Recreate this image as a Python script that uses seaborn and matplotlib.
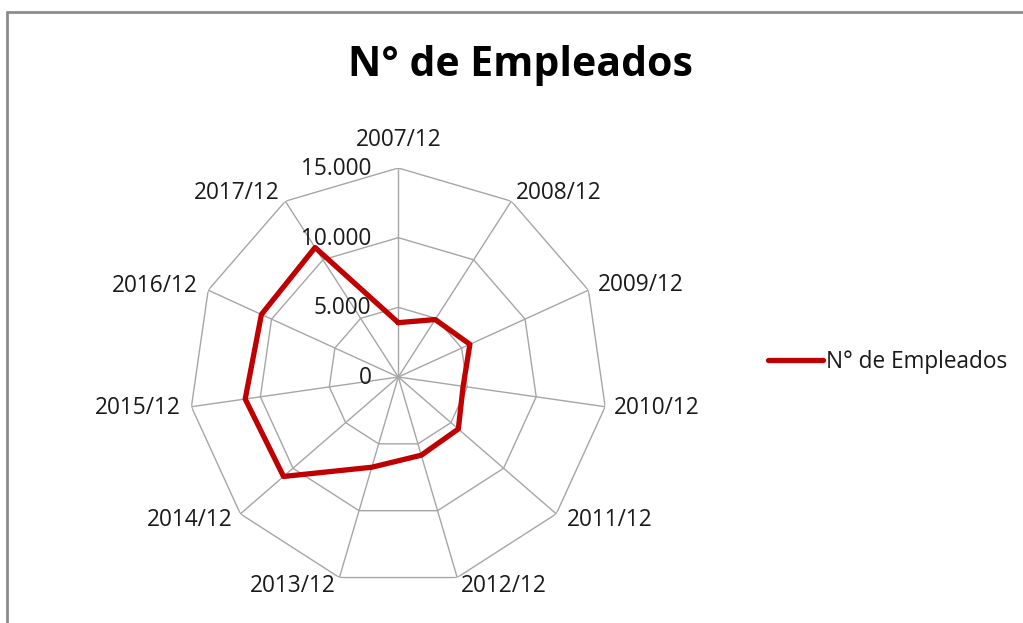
import numpy as np
import pandas as pd
import matplotlib
matplotlib.use("Agg")
import matplotlib.pyplot as plt
import seaborn as sns
from matplotlib.lines import Line2D

categories = ["2007/12", "2008/12", "2009/12", "2010/12", "2011/12", "2012/12",
              "2013/12", "2014/12", "2015/12", "2016/12", "2017/12"]
empleados = [3900, 4900, 5650, 4700, 5700, 5850, 6750, 10900, 11100, 10800, 11050]
rticks = [0, 5000, 10000, 15000]
rtick_labels = ["0", "5.000", "10.000", "15.000"]
series_name = "N° de Empleados"

sns.set_theme(style="white")
plt.rcParams["font.family"] = ["Open Sans", "DejaVu Sans"]

W, H = 1023, 623
fig = plt.figure(figsize=(W / 100, H / 100), dpi=100)
cx, cy, R = 398.3, 377.0, 209.0
ax = fig.add_axes([(cx - R) / W, (H - cy - R) / H, 2 * R / W, 2 * R / H], projection="polar")
ax.set_theta_zero_location("N")
ax.set_theta_direction(-1)
ax.set_ylim(0, rticks[-1])
ax.set_xticks([])
ax.set_yticks([])
ax.grid(False)
ax.spines["polar"].set_visible(False)
ax.set_facecolor("none")

n = len(categories)
angles = np.arange(n) * 2 * np.pi / n
closed = np.append(angles, 2 * np.pi)

grid_col = "#a6a6a6"
for r in rticks[1:]:
    ax.plot(closed, [r] * (n + 1), color=grid_col, lw=1.0, zorder=1)
for a in angles:
    ax.plot([a, a], [0, rticks[-1]], color=grid_col, lw=1.0, zorder=1)

df = pd.DataFrame({"theta": closed, "valor": empleados + [empleados[0]]})
sns.lineplot(data=df, x="theta", y="valor", ax=ax, color="#c00000", lw=3.8,
             sort=False, zorder=3, legend=False)
ax.set_xlabel("")
ax.set_ylabel("")

txt_col = "#1a1a1a"
fs = 16.3

# radial tick labels
for r, lab in zip(rticks, rtick_labels):
    ax.annotate(lab, xy=(0, r), xytext=(-27, -1), textcoords="offset pixels",
                ha="right", va="center", fontsize=fs, color=txt_col)

# category labels
offsets = [(0, 16, "center", "bottom"), (5, 8, "left", "center"), (9, 5, "left", "center"),
           (9, -1, "left", "center"), (11, -6, "left", "center"), (4, -8, "left", "center"),
           (-4, -8, "right", "center"), (-8, -6, "right", "center"), (-11, -1, "right", "center"),
           (-10, 4, "right", "center"), (-6, 8, "right", "center")]
for a, lab, (dx, dy, ha, va) in zip(angles, categories, offsets):
    ax.annotate(lab, xy=(a, rticks[-1]), xytext=(dx, dy), textcoords="offset pixels",
                ha=ha, va=va, fontsize=fs, color=txt_col)

fig.text(520 / W, 1 - 65 / H, series_name, ha="center", va="center",
         fontsize=29.5, fontweight="bold", color="black")

# legend
h = Line2D([0], [0], color="#c00000", lw=3.8)
fig.legend([h], [series_name], loc="center left", bbox_to_anchor=(748 / W, 1 - 362 / H),
           frameon=False, fontsize=fs, handlelength=2.4, handletextpad=0.15,
           labelcolor=txt_col)

# outer frame (top and left only visible)
fig.add_artist(Line2D([6.5 / W, 1.0], [1 - 11.5 / H, 1 - 11.5 / H], transform=fig.transFigure,
                      color="#8c8c8c", lw=2))
fig.add_artist(Line2D([6.5 / W, 6.5 / W], [0, 1 - 11.5 / H], transform=fig.transFigure,
                      color="#8c8c8c", lw=2))

fig.savefig("out.png", dpi=100, facecolor="white")
